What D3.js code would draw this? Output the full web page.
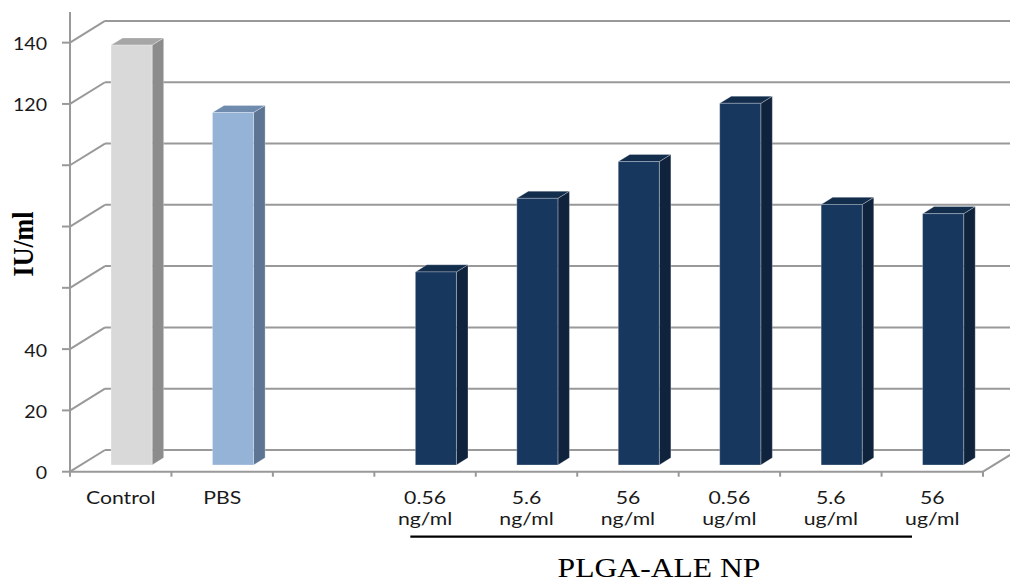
<!DOCTYPE html>
<html>
<head>
<meta charset="utf-8">
<script src="https://cdn.jsdelivr.net/npm/d3@7"></script>
<style>
  html, body { margin: 0; padding: 0; background: #fff; }
  svg { display: block; }
</style>
</head>
<body>
<svg id="chart" width="1010" height="584"></svg>
<script>
// ---- data ----
const categories = ["Control", "PBS", "", "0.56 ng/ml", "5.6 ng/ml", "56 ng/ml", "0.56 ug/ml", "5.6 ug/ml", "56 ug/ml"];
const values = [137, 115, null, 63, 87, 99, 118, 85, 82];
const groups = ["control", "pbs", "none", "np", "np", "np", "np", "np", "np"];
const yTicks = [0, 20, 40, 60, 80, 100, 120, 140];
const yTickLabels = ["0", "20", "40", "", "", "", "120", "140"];
const yTitle = "IU/ml";
const groupTitle = "PLGA-ALE NP";

// ---- styles ----
const palette = {
  control: { front: "#d9d9d9", side: "#8c8c8c", top: "#a6a6a6" },
  pbs:     { front: "#95b3d7", side: "#5e7493", top: "#6f8bae" },
  np:      { front: "#17375e", side: "#10233d", top: "#132d4d" }
};
const gridColor = "#999999";
const DX = 35, DY = 21.7;          // depth projection of the 3D box
const d0 = 0.31, d1 = 0.64;        // bar depth range
const sx = 1.18;                   // horizontal text stretch

const svg = d3.select("#chart");

const x = d3.scaleBand().domain(d3.range(categories.length)).range([70, 983]).padding(0);
const y = d3.scaleLinear().domain([0, 150]).range([471.7, 12]);

function proj(px, v, d) { return [px + d * DX, y(v) - d * DY]; }

// ---- back wall gridlines ----
const grid = svg.append("g").attr("stroke", gridColor).attr("stroke-width", 2).attr("fill", "none");
yTicks.forEach(v => {
  const [bx, by] = proj(70, v, 1);
  grid.append("line").attr("x1", bx).attr("y1", by).attr("x2", 1010).attr("y2", by);
  grid.append("line").attr("x1", 70).attr("y1", y(v)).attr("x2", bx).attr("y2", by);
  grid.append("line").attr("x1", 62).attr("y1", y(v)).attr("x2", 70).attr("y2", y(v));
});
// right floor edge
{
  const [bx, by] = proj(983, 0, 1);
  grid.append("line").attr("x1", 983).attr("y1", y(0)).attr("x2", bx).attr("y2", by);
}
// front vertical axis
grid.append("line").attr("x1", 70).attr("y1", y(150)).attr("x2", 70).attr("y2", y(0));
// front x axis
grid.append("line").attr("x1", 70).attr("y1", y(0)).attr("x2", 983).attr("y2", y(0));
d3.range(categories.length + 1).forEach(i => {
  const px = i < categories.length ? x(i) : x.range()[1];
  grid.append("line").attr("x1", px).attr("y1", y(0)).attr("x2", px).attr("y2", y(0) + 5);
});

// ---- bars ----
const bw = x.bandwidth() * 0.405;
const bars = svg.append("g");
categories.forEach((c, i) => {
  const v = values[i];
  if (v == null) return;
  const col = palette[groups[i]];
  const xc = x(i) + x.bandwidth() / 2;
  const xl = xc - bw / 2, xr = xc + bw / 2;
  const fTL = proj(xl, v, d0), fTR = proj(xr, v, d0), fBR = proj(xr, 0, d0), fBL = proj(xl, 0, d0);
  const bTL = proj(xl, v, d1), bTR = proj(xr, v, d1), bBR = proj(xr, 0, d1);
  const g = bars.append("g").attr("stroke", "rgba(255,255,255,0.35)").attr("stroke-width", 0.8).attr("stroke-linejoin", "round");
  g.append("polygon").attr("points", [fTR, bTR, bBR, fBR].join(" ")).attr("fill", col.side);
  g.append("polygon").attr("points", [fTL, fTR, bTR, bTL].join(" ")).attr("fill", col.top);
  g.append("polygon").attr("points", [fTL, fTR, fBR, fBL].join(" ")).attr("fill", col.front);
});

// ---- text helper ----
function txt(parent, px, py, str, opts) {
  const g = parent.append("g").attr("transform", `translate(${px},${py}) scale(${opts.sx || sx},1)` + (opts.rotate ? ` rotate(${opts.rotate})` : ""));
  return g.append("text")
    .attr("text-anchor", opts.anchor || "middle")
    .attr("font-family", opts.family || "Lato, 'Open Sans', sans-serif")
    .attr("font-size", opts.size || 17.5)
    .attr("font-weight", opts.weight || "normal")
    .attr("fill", opts.fill || "#1a1a1a")
    .text(str);
}

// y tick labels
const yl = svg.append("g");
yTicks.forEach((v, i) => {
  if (!yTickLabels[i]) return;
  txt(yl, 47, y(v) + 7.5, yTickLabels[i], { anchor: "end", size: 17.5, sx: 1.12 });
});

// category labels
const xl = svg.append("g");
categories.forEach((c, i) => {
  if (!c) return;
  const xc = x(i) + x.bandwidth() / 2;
  const lines = c.split(" ");
  lines.forEach((ln, k) => txt(xl, xc, 503.5 + k * 21, ln, { size: 18 }));
});

// y title
txt(svg, 33, 244, yTitle, { rotate: -90, family: "'Liberation Serif', 'Times New Roman', serif", weight: "bold", size: 26, fill: "#000", sx: 1.15 });

// group bracket line and title
const gStart = x(3) + 36, gEnd = x.range()[1] - 71;
svg.append("line").attr("x1", gStart).attr("x2", gEnd).attr("y1", 536.7).attr("y2", 536.7)
  .attr("stroke", "#000").attr("stroke-width", 2.2);
txt(svg, 659, 576.7, groupTitle, { family: "'Liberation Serif', 'Times New Roman', serif", size: 27.5, fill: "#000", sx: 1.15 });
</script>
</body>
</html>
